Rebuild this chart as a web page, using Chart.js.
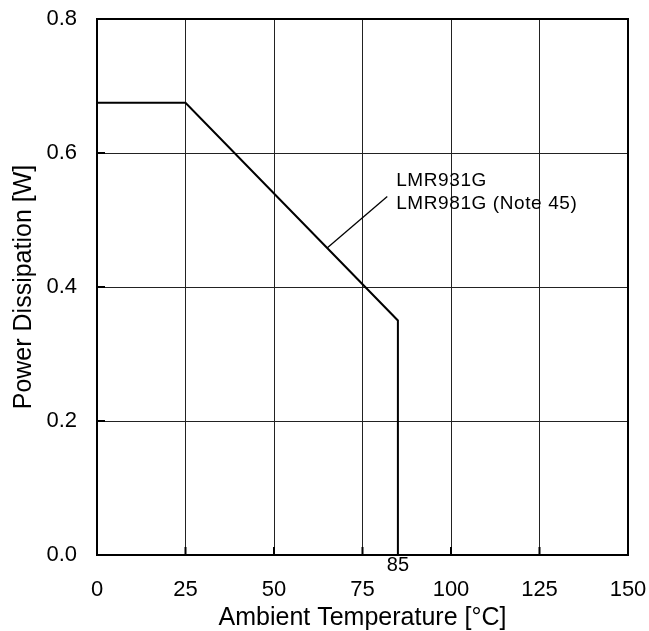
<!DOCTYPE html>
<html>
<head>
<meta charset="utf-8">
<script src="https://cdn.jsdelivr.net/npm/chart.js@4.4.1/dist/chart.umd.min.js"></script>
<style>
    html, body { margin: 0; padding: 0; background: #fff; }
    #wrap { width: 649px; height: 631px; }
</style>
</head>
<body>
<div id="wrap"><canvas id="derating"></canvas></div>
<script>
// derating curve
const tempC = [0, 25, 85, 85];
const powerW = [0.675, 0.675, 0.35, 0];

// leader line of the part label
const leaderX = [65, 82];
const leaderY = [0.4583, 0.535];
const noteLines = ['LMR931G', 'LMR981G (Note 45)'];
const noteX = 84.5;
const noteY = [0.558, 0.5248];

// marked value below the axis
const markTemp = 85;

const xTicks = [0, 25, 50, 75, 100, 125, 150];
const yTicks = [0, 0.2, 0.4, 0.6, 0.8];

const FONT = '"Liberation Sans", Arial, sans-serif';

const framePlugin = {
    id: 'frame',
    afterDatasetsDraw(chart) {
        const { ctx, chartArea: a, scales } = chart;
        ctx.save();
        ctx.strokeStyle = '#000';
        ctx.lineWidth = 2;
        // inward tick marks
        ctx.beginPath();
        xTicks.forEach(v => {
            const px = scales.x.getPixelForValue(v);
            ctx.moveTo(px, a.bottom);
            ctx.lineTo(px, a.bottom - 8);
        });
        yTicks.forEach(v => {
            const py = scales.y.getPixelForValue(v);
            ctx.moveTo(a.left, py);
            ctx.lineTo(a.left + 8, py);
        });
        ctx.stroke();
        ctx.strokeRect(a.left, a.top, a.right - a.left, a.bottom - a.top);

        // part label
        ctx.fillStyle = '#000';
        ctx.font = '19px ' + FONT;
        ctx.letterSpacing = '0.6px';
        ctx.textAlign = 'left';
        ctx.textBaseline = 'middle';
        noteLines.forEach((t, i) => {
            ctx.fillText(t, scales.x.getPixelForValue(noteX), scales.y.getPixelForValue(noteY[i]));
        });

        // 85 marker
        ctx.letterSpacing = '0px';
        ctx.font = '20px ' + FONT;
        ctx.textAlign = 'center';
        ctx.fillText(String(markTemp), scales.x.getPixelForValue(markTemp), a.bottom + 10);
        ctx.restore();
    }
};

const ctx = document.getElementById('derating');
new Chart(ctx, {
    type: 'scatter',
    data: {
        datasets: [{
            data: tempC.map((t, i) => ({ x: t, y: powerW[i] })),
            showLine: true,
            borderColor: '#000',
            borderWidth: 2,
            pointRadius: 0
        }, {
            data: leaderX.map((t, i) => ({ x: t, y: leaderY[i] })),
            showLine: true,
            borderColor: '#000',
            borderWidth: 1.3,
            pointRadius: 0
        }]
    },
    options: {
        responsive: true,
        maintainAspectRatio: false,
        animation: false,
        layout: { padding: { top: 19, right: 21, left: 0, bottom: 0 } },
        plugins: {
            legend: { display: false },
            tooltip: { enabled: false }
        },
        scales: {
            x: {
                type: 'linear',
                min: 0,
                max: 150,
                afterBuildTicks: s => { s.ticks = xTicks.map(v => ({ value: v })); },
                afterFit: s => {
                    s.height = 76;
                    s.paddingLeft = 0;
                    s.paddingRight = 0;
                },
                border: { display: false },
                grid: { color: '#222', lineWidth: 1, drawTicks: false },
                ticks: {
                    color: '#000',
                    padding: 22,
                    maxRotation: 0,
                    font: { family: FONT, size: 22 }
                },
                title: {
                    display: true,
                    text: 'Ambient Temperature [°C]',
                    color: '#000',
                    padding: { top: 0, bottom: 0 },
                    font: { family: FONT, size: 25, lineHeight: 1 }
                }
            },
            y: {
                type: 'linear',
                min: 0,
                max: 0.8,
                afterBuildTicks: s => { s.ticks = yTicks.map(v => ({ value: v })); },
                afterFit: s => {
                    s.width = 97;
                    s.paddingTop = 0;
                    s.paddingBottom = 0;
                },
                border: { display: false },
                grid: { color: '#222', lineWidth: 1, drawTicks: false },
                ticks: {
                    color: '#000',
                    padding: 20,
                    callback: v => Number(v).toFixed(1),
                    font: { family: FONT, size: 22 }
                },
                title: {
                    display: true,
                    text: 'Power Dissipation [W]',
                    color: '#000',
                    padding: { top: 12, bottom: 0 },
                    font: { family: FONT, size: 25, lineHeight: 1 }
                }
            }
        }
    },
    plugins: [framePlugin]
});
</script>
</body>
</html>
